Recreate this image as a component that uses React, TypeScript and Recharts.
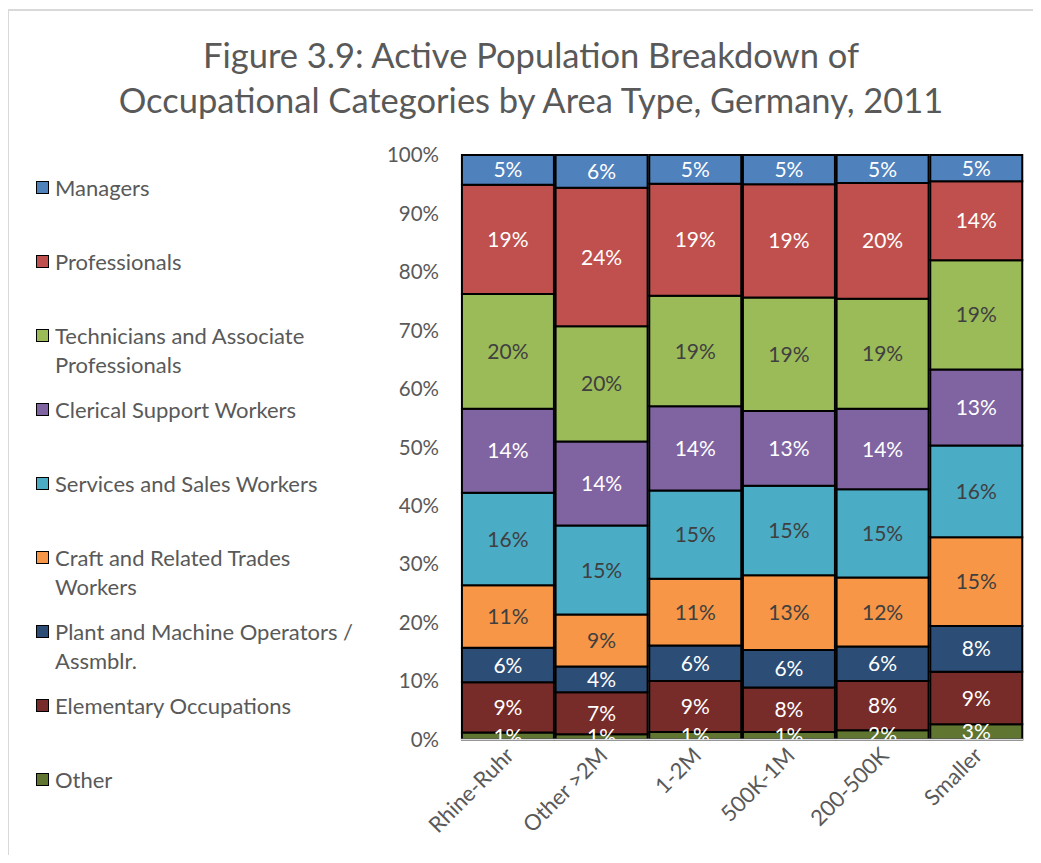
import React from "react";
import { BarChart, Bar, XAxis, YAxis, LabelList } from "recharts";

// area types (x axis)
const categories = ["Rhine-Ruhr", "Other >2M", "1-2M", "500K-1M", "200-500K", "Smaller"];

// share of active population, %
const other = [1.2, 0.9, 1.3, 1.3, 1.6, 2.6];
const elementary = [8.6, 7.2, 8.7, 7.6, 8.4, 9.0];
const plant = [5.9, 4.4, 6.1, 6.4, 5.9, 7.8];
const craft = [10.7, 8.9, 11.4, 12.8, 11.8, 15.2];
const services = [15.8, 15.2, 15.1, 15.3, 15.1, 15.7];
const clerical = [14.4, 14.4, 14.4, 12.8, 13.8, 13.0];
const technicians = [19.6, 19.7, 18.9, 19.4, 18.8, 18.7];
const professionals = [18.7, 23.7, 19.2, 19.4, 19.8, 13.5];
const managers = [5.1, 5.6, 4.9, 5.0, 4.8, 4.5];

const yTicks = [0, 0.1, 0.2, 0.3, 0.4, 0.5, 0.6, 0.7, 0.8, 0.9, 1];

// bottom of stack first
const series = [
  { key: "other", name: "Other", values: other, color: "#5F7530", text: "#ffffff" },
  { key: "elementary", name: "Elementary Occupations", values: elementary, color: "#772C2A", text: "#ffffff" },
  { key: "plant", name: "Plant and Machine Operators /\nAssmblr.", values: plant, color: "#2C4D75", text: "#ffffff" },
  { key: "craft", name: "Craft and Related Trades\nWorkers", values: craft, color: "#F79646", text: "#404040" },
  { key: "services", name: "Services and Sales Workers", values: services, color: "#4BACC6", text: "#404040" },
  { key: "clerical", name: "Clerical Support Workers", values: clerical, color: "#8064A2", text: "#ffffff" },
  { key: "technicians", name: "Technicians and Associate\nProfessionals", values: technicians, color: "#9BBB59", text: "#404040" },
  { key: "professionals", name: "Professionals", values: professionals, color: "#C0504D", text: "#ffffff" },
  { key: "managers", name: "Managers", values: managers, color: "#4F81BD", text: "#ffffff" },
];

const data = categories.map((name, i) => {
  const row: Record<string, any> = { name };
  series.forEach((s) => {
    row[s.key] = s.values[i];
  });
  return row;
});

const FONT = "Lato, 'Open Sans', sans-serif";
const GREY = "#595959";

const makeLabel = (key: string, color: string) => (props: any) => {
  const vb = props.viewBox || {};
  const x = props.x ?? vb.x;
  const y = props.y ?? vb.y;
  const w = props.width ?? vb.width;
  const h = props.height ?? vb.height;
  const id = `clip-${key}-${props.index}`;
  return (
    <g>
      <defs>
        <clipPath id={id}>
          <rect x={x - 20} y={y - 60} width={w + 40} height={h + 60} />
        </clipPath>
      </defs>
      <text
        x={x + w / 2}
        y={y + h / 2}
        dy="0.36em"
        textAnchor="middle"
        fill={color}
        fontSize={21}
        fontFamily={FONT}
        clipPath={`url(#${id})`}
      >
        {`${Math.round(Number(props.value))}%`}
      </text>
    </g>
  );
};

const XTick = (props: any) => {
  const { x, y, payload } = props;
  return (
    <g transform={`translate(${x + 2},${y + 4})`}>
      <text
        x={0}
        y={0}
        dy="0.35em"
        textAnchor="end"
        transform="rotate(-45)"
        fill={GREY}
        fontSize={22}
        fontFamily={FONT}
      >
        {payload.value}
      </text>
    </g>
  );
};

const legendItems = [...series].reverse();

export default function App() {
  return (
    <div style={{ position: "relative", width: 1033, height: 847, fontFamily: FONT }}>
      <div style={{ position: "absolute", left: -1, top: 1, width: 1040, height: 2, background: "#d9d9d9" }} />
      <div style={{ position: "absolute", left: -1, top: 1, width: 2, height: 860, background: "#d9d9d9" }} />
      <div
        style={{
          position: "absolute",
          left: 0,
          top: 24,
          width: 1046,
          textAlign: "center",
          fontSize: 34.5,
          lineHeight: "45px",
          color: GREY,
        }}
      >
        Figure 3.9: Active Population Breakdown of
        <br />
        Occupational Categories by Area Type, Germany, 2011
      </div>
      <div style={{ position: "absolute", left: 0, top: 0 }}>
        <BarChart
          width={1025}
          height={840}
          data={data}
          stackOffset="expand"
          barCategoryGap="1%"
          margin={{ top: 147, right: 10, left: 0, bottom: 8.5 }}
        >
          <XAxis
            dataKey="name"
            height={100}
            tickLine={false}
            axisLine={{ stroke: "#d9d9d9", strokeWidth: 1.5 }}
            tick={<XTick />}
            interval={0}
          />
          <YAxis
            width={453}
            domain={[0, 1]}
            ticks={yTicks}
            tickFormatter={(v: number) => `${Math.round(v * 100)}%`}
            axisLine={false}
            tickLine={false}
            tickSize={0}
            tickMargin={22}
            tick={{ fill: GREY, fontSize: 20.5, fontFamily: FONT }}
          />
          {series.map((s) => (
            <Bar
              key={s.key}
              dataKey={s.key}
              name={s.name}
              stackId="a"
              fill={s.color}
              stroke="#000000"
              strokeWidth={2}
              isAnimationActive={false}
            >
              <LabelList dataKey={s.key} content={makeLabel(s.key, s.text)} />
            </Bar>
          ))}
        </BarChart>
      </div>
      {legendItems.map((s, i) => {
        const lines = s.name.split("\n");
        return (
          <div
            key={s.key}
            style={{
              position: "absolute",
              left: 28,
              top: 179 + 74 * i - 14.5,
              fontSize: 22,
              lineHeight: "29px",
              color: GREY,
              whiteSpace: "nowrap",
            }}
          >
            <span
              style={{
                position: "absolute",
                left: 0,
                top: 8,
                width: 11,
                height: 11,
                background: s.color,
                border: "1.5px solid #000",
              }}
            />
            <div style={{ marginLeft: 19 }}>
              {lines.map((l, j) => (
                <div key={j}>{l}</div>
              ))}
            </div>
          </div>
        );
      })}
    </div>
  );
}
